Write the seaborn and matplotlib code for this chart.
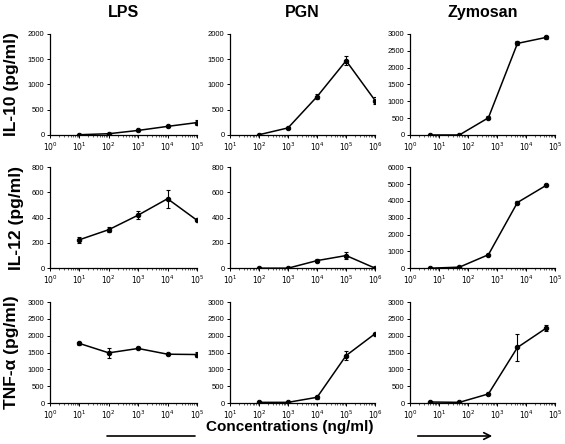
import numpy as np
import pandas as pd
import matplotlib
matplotlib.use("Agg")
import matplotlib.pyplot as plt
from matplotlib.ticker import LogLocator, FixedLocator, NullFormatter, FuncFormatter
import seaborn as sns

sns.set_style("ticks")
plt.rcParams['font.family'] = ['Liberation Sans', 'DejaVu Sans']
plt.rcParams['text.color'] = 'black'
plt.rcParams['axes.labelcolor'] = 'black'

# concentrations (ng/ml)
lps_conc = [1e1, 1e2, 1e3, 1e4, 1e5]
pgn_conc = [1e2, 1e3, 1e4, 1e5, 1e6]
zym_conc = [5, 50, 500, 5000, 50000]

# IL-10 (pg/ml)
il10_lps = [5, 25, 90, 170, 245]
il10_lps_err = [3, 8, 10, 15, 50]
il10_pgn = [5, 140, 760, 1470, 680]
il10_pgn_err = [5, 15, 50, 90, 70]
il10_zym = [0, 0, 510, 2720, 2900]
il10_zym_err = [0, 0, 40, 60, 50]

# IL-12 (pg/ml)
il12_lps = [225, 305, 420, 550, 380]
il12_lps_err = [25, 20, 30, 70, 5]
il12_pgn = [0, 0, 60, 100, 0]
il12_pgn_err = [2, 2, 15, 30, 2]
il12_zym = [0, 60, 800, 3900, 4930]
il12_zym_err = [0, 10, 30, 80, 30]

# TNF-alpha (pg/ml)
tnf_lps = [1770, 1490, 1620, 1450, 1440]
tnf_lps_err = [50, 140, 30, 30, 80]
tnf_pgn = [20, 20, 170, 1410, 2060]
tnf_pgn_err = [5, 5, 50, 130, 20]
tnf_zym = [30, 20, 270, 1650, 2230]
tnf_zym_err = [5, 5, 15, 400, 80]

col_titles = ['LPS', 'PGN', 'Zymosan']
row_labels = ['IL-10 (pg/ml)', 'IL-12 (pg/ml)', 'TNF-α (pg/ml)']

panels = [
    [(lps_conc, il10_lps, il10_lps_err, 2000, 500, (0, 5)),
     (pgn_conc, il10_pgn, il10_pgn_err, 2000, 500, (1, 6)),
     (zym_conc, il10_zym, il10_zym_err, 3000, 500, (0, 5))],
    [(lps_conc, il12_lps, il12_lps_err, 800, 200, (0, 5)),
     (pgn_conc, il12_pgn, il12_pgn_err, 800, 200, (1, 6)),
     (zym_conc, il12_zym, il12_zym_err, 6000, 1000, (0, 5))],
    [(lps_conc, tnf_lps, tnf_lps_err, 3000, 500, (0, 5)),
     (pgn_conc, tnf_pgn, tnf_pgn_err, 3000, 500, (1, 6)),
     (zym_conc, tnf_zym, tnf_zym_err, 3000, 500, (0, 5))],
]

fig = plt.figure(figsize=(5.65, 4.44), dpi=100)

lefts = [0.0885, 0.407, 0.7257]
widths = [0.260, 0.257, 0.257]
bottoms = [0.696, 0.396, 0.0923]
h = 0.2275

for i, row in enumerate(panels):
    for j, (conc, vals, err, ymax, ystep, (e0, e1)) in enumerate(row):
        ax = fig.add_axes([lefts[j], bottoms[i], widths[j], h])
        df = pd.DataFrame({'conc': conc, 'val': vals})
        ax.errorbar(conc, vals, yerr=err, fmt='none', ecolor='black',
                    elinewidth=0.8, capsize=1.5, capthick=0.8, zorder=2)
        sns.lineplot(data=df, x='conc', y='val', ax=ax, color='black',
                     marker='o', markersize=3.2, markeredgecolor='black',
                     linewidth=1.1, zorder=3)
        ax.set_xscale('log')
        ax.set_xlim(10 ** e0, 10 ** e1)
        ax.set_ylim(0, ymax)
        ax.yaxis.set_major_locator(FixedLocator(np.arange(0, ymax + 1, ystep)))
        ax.xaxis.set_major_locator(FixedLocator([10.0 ** k for k in range(e0, e1 + 1)]))
        ax.xaxis.set_major_formatter(FuncFormatter(lambda v, p: r'$10^{%d}$' % round(np.log10(v))))
        ax.xaxis.set_minor_locator(LogLocator(base=10, subs=np.arange(2, 10), numticks=20))
        ax.xaxis.set_minor_formatter(NullFormatter())
        ax.set_xlabel('')
        ax.set_ylabel('')
        ax.tick_params(axis='both', which='major', labelsize=5.5, length=2.5, width=0.7,
                       direction='out', pad=1.5, colors='black')
        ax.tick_params(axis='x', which='minor', length=1.5, width=0.5)
        for s in ['top', 'right']:
            ax.spines[s].set_visible(False)
        for s in ['left', 'bottom']:
            ax.spines[s].set_linewidth(0.9)
            ax.spines[s].set_color('black')
        if i == 0:
            ax.set_title(col_titles[j], fontsize=11.5, fontweight='bold', pad=12)
        if j == 0:
            ax.set_ylabel(row_labels[i], fontsize=12.5, fontweight='bold', labelpad=6)

fig.text(0.513, 0.038, 'Concentrations (ng/ml)', ha='center', va='center',
         fontsize=11, fontweight='bold')
fig.add_artist(plt.Line2D([107 / 565, 195 / 565], [8 / 444, 8 / 444],
                          color='black', linewidth=1.2))
fig.add_artist(matplotlib.patches.FancyArrowPatch((415 / 565, 8 / 444), (495 / 565, 8 / 444),
                                                  arrowstyle='->', mutation_scale=12,
                                                  color='black', linewidth=1.2))

fig.savefig('out.png', dpi=100)
